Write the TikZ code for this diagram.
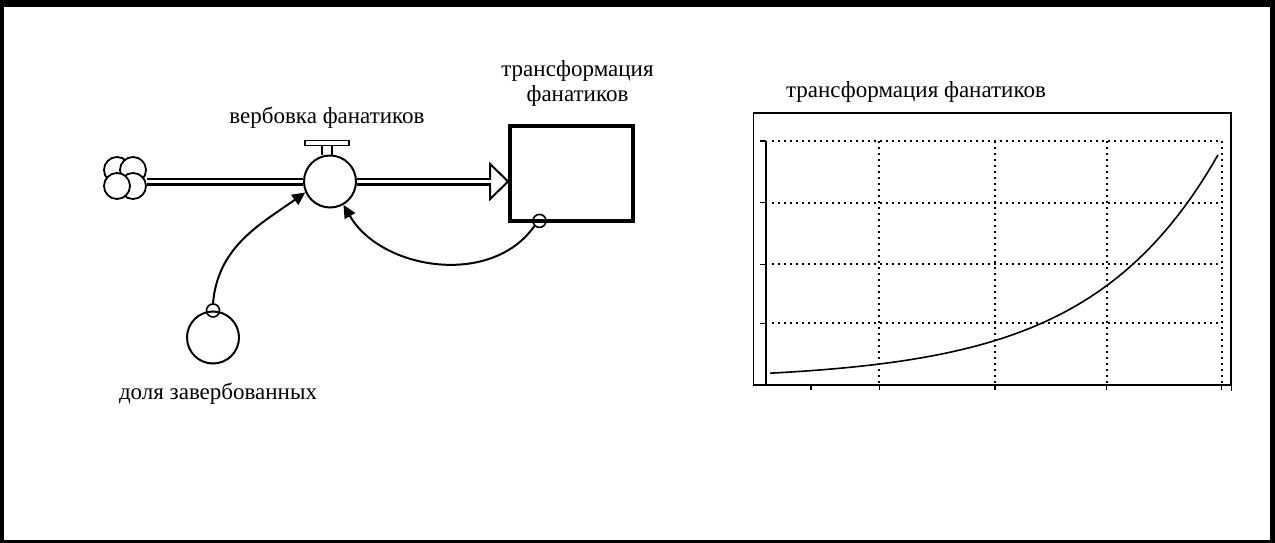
\documentclass[tikz,border=0pt]{standalone}
\usepackage{fontspec}
\setmainfont{Liberation Serif}
\usetikzlibrary{arrows.meta}
\usetikzlibrary{positioning}

\tikzset{
    pipe/.style={double, double distance=3.6pt, line width=2.2pt},
    conv/.style={circle, draw, line width=2pt, minimum size=52pt, inner sep=0pt, fill=white},
    tap/.style={circle, draw, line width=1.6pt, minimum size=13pt, inner sep=0pt},
    link/.style={line width=2pt, -{Triangle[length=13pt, width=12pt]}},
    caption/.style={inner sep=0pt, font=\fontsize{23}{25}\selectfont},
    gridline/.style={line width=1.8pt, dash pattern=on 1.8pt off 4.2pt},
}

\begin{document}
\begin{tikzpicture}[x=1pt, y=-1pt]
    % Frame
    \fill[black] (0,0) rectangle (1275,543);
    \fill[white] (4,7) rectangle (1270,540);

    % Flow with valve
    \node[conv] (valve) at (330,181.5) {};
    \node[draw, line width=3.8pt, minimum width=123pt, minimum height=95pt] (stock) at (571.5,173.5) {};
    \node[circle, minimum size=44pt] (cloud) at (125,178) {};
    \draw[pipe] (cloud.east |- valve.west) -- (valve.west);
    \foreach \dx/\dy in {-8/-8, 8/-8, 8/8, -8/8} {
        \draw[fill=white, line width=1.8pt] ([shift={(\dx,\dy)}]cloud.center) circle (13);
    }
    \draw[fill=white, line width=2pt] (stock.west |- valve.east) -- ++(-18,-17.5) -- ++(0,35) -- cycle;
    \draw[pipe] (valve.east) -- ([xshift=-17pt]stock.west |- valve.east);

    % Valve handle
    \coordinate (handle) at ([xshift=-3pt, yshift=14pt]valve.north);
    \draw[line width=1.6pt] ([xshift=-5pt]handle) -- ([xshift=-5pt]handle |- valve.north);
    \draw[line width=1.6pt] ([xshift=5pt]handle) -- ([xshift=5pt]handle |- valve.north);
    \draw[line width=1.6pt, fill=white] ([xshift=-22pt]handle) rectangle ([xshift=22pt, yshift=-5pt]handle);

    % Labels
    \node[caption, above=12pt of handle] (ratelabel) {вербовка фанатиков};
    \node[caption, align=center, above=18pt of stock, xshift=6pt] (stocklabel) {трансформация\\фанатиков};

    % Auxiliary
    \node[conv] (share) at (213,337.5) {};
    \node[caption, below=18pt of share, xshift=5pt] (sharelabel) {доля завербованных};

    % Connectors
    \node[tap] (sharetap) at (share.north) {};
    \node[tap] (stocktap) at ([xshift=-32pt, yshift=2pt]stock.south) {};
    \draw[link] (sharetap.north) to[out=85, in=215] (valve.204);
    \draw[link] (stocktap.south west) to[out=235, in=-60] (valve.300);

    % Chart
    \node[draw, line width=1.5pt, minimum width=477.5pt, minimum height=272pt, inner sep=0pt] (chart) at (992,249) {};
    \node[caption, above=10pt of chart, xshift=-76pt] (charttitle) {трансформация фанатиков};
    \draw[line width=2.5pt] (766,141) -- (766,385);
    \foreach \y in {141,202.7,264.3,323.3} {
        \draw[gridline] (772,\y) -- (1221,\y);
        \draw[line width=1.5pt] (760,\y) -- (766,\y);
    }
    \foreach \x in {879.3,995,1106.7,1221.7} {
        \draw[gridline] (\x,141) -- (\x,385);
        \draw[line width=1.5pt] (\x,385) -- (\x,390);
    }
    \draw[line width=1.5pt] (811,385) -- (811,390);
    \draw[line width=1.5pt] (chart.south east) -- ++(0,5);

    % Curve
    \draw[line width=1.6pt] plot[domain=770:1218, samples=80] (\x, {380 - 6.8*exp(0.875*(\x-770)/112)});
\end{tikzpicture}
\end{document}
